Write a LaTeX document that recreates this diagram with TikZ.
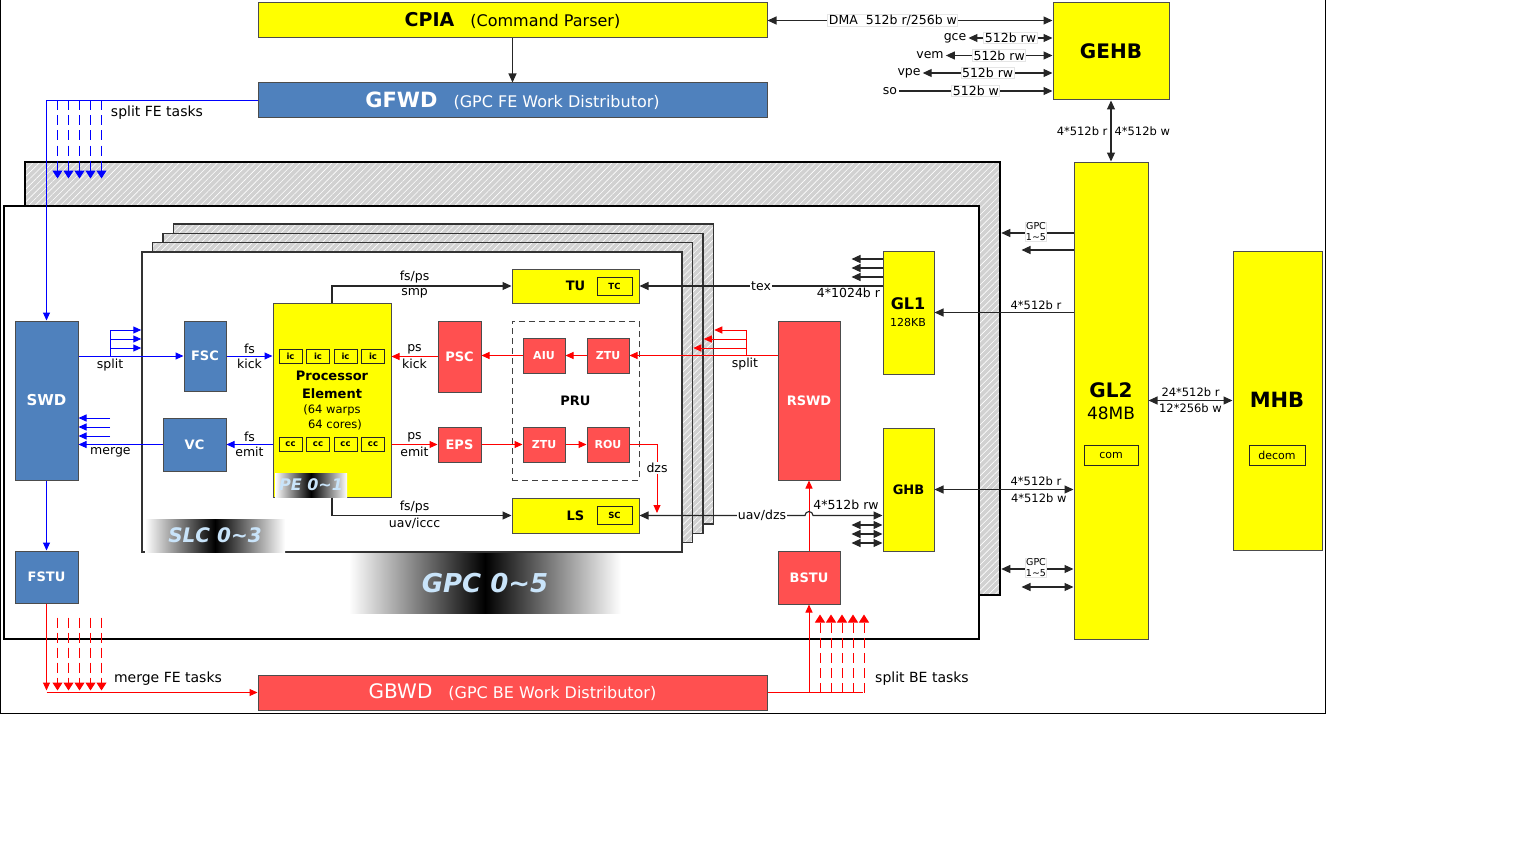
\documentclass[tikz,border=0pt]{standalone}
\usepackage{fontspec}
\setmainfont{DejaVu Sans}
\usetikzlibrary{arrows.meta, positioning, calc, patterns.meta}

\definecolor{GpuBlue}{HTML}{4F81BD}
\definecolor{GpuRed}{HTML}{FF5050}
\definecolor{GpuYellow}{HTML}{FFFF00}
\definecolor{TagBlue}{HTML}{C9E4FA}
\newcommand{\fsz}[1]{\fontsize{#1}{#1}\selectfont}
\newcommand{\tld}{\textasciitilde}

\tikzset{
  unit/.style={draw=black!70, line width=1pt, inner sep=0pt, align=center},
  ybox/.style={unit, fill=GpuYellow, font=\bfseries\fsz{13}},
  bbox/.style={unit, fill=GpuBlue, text=white, font=\bfseries\fsz{13}},
  rbox/.style={unit, fill=GpuRed, text=white, font=\bfseries\fsz{13}},
  tiny/.style={draw=black!85, line width=0.8pt, fill=GpuYellow, inner sep=0pt, font=\bfseries\fsz{8.5}},
  hatch/.style={draw=black, inner sep=0pt, preaction={fill=black!18},
    pattern={Lines[angle=45,distance=4.5pt,line width=0.6pt]}, pattern color=white},
  tag/.style={inner sep=0pt, left color=white, right color=white, middle color=black,
    text=TagBlue},
  lbl/.style={inner sep=2pt, font=\fsz{12.5}},
  onlbl/.style={lbl, inner sep=1pt, fill=white, draw=black!10},
  wlbl/.style={lbl, inner sep=3pt, font=\fsz{11.5}},
  arr/.style={-{Triangle[length=9pt,width=8pt]}, draw=black!85, line width=1.1pt},
  dblarr/.style={arr, {Triangle[length=9pt,width=8pt]}-{Triangle[length=9pt,width=8pt]}},
  barr/.style={-{Triangle[length=8pt,width=7pt]}, draw=blue, line width=1pt},
  rarr/.style={-{Triangle[length=8pt,width=7pt]}, draw=red, line width=1pt},
  fan/.style={dash pattern=on 10pt off 5pt, line width=1pt, -{Triangle[length=8pt,width=10pt]}},
}

\begin{document}
\begin{tikzpicture}[x=1pt, y=-1pt]
  \useasboundingbox (0,0) rectangle (1536,864);
  \draw[line width=1pt] (0,0) rectangle (1325,713);

  % front end: parser, work distributor, host bus
  \node[ybox, minimum width=509pt, minimum height=35pt, font=\fsz{16}] (cpia) at (512.5,20.5)
    {{\bfseries\fsz{19}CPIA}\quad(Command Parser)};
  \node[bbox, minimum width=509pt, minimum height=35pt, font=\fsz{16}] (gfwd) at (512.5,100.5)
    {{\bfseries\fsz{21}GFWD}\quad(GPC FE Work Distributor)};
  \node[ybox, minimum width=116pt, minimum height=97pt, font=\bfseries\fsz{20}] (gehb) at (1111,51.5) {GEHB};
  \draw[arr] (cpia.south) -- (gfwd.north);

  \draw[dblarr] (cpia.east) -- (cpia.east -| gehb.west) node[pos=0.44, onlbl] {DMA\ \ 512b r/256b w};
  \node[lbl] (gce) at (955,38) {gce};
  \node[lbl] (vem) at (930,55.5) {vem};
  \node[lbl] (vpe) at (909,73) {vpe};
  \node[lbl] (so) at (890,91) {so};
  \draw[dblarr] (gce.east) -- (gce.east -| gehb.west) node[midway, onlbl] {512b rw};
  \draw[dblarr] (vem.east) -- (vem.east -| gehb.west) node[midway, onlbl] {512b rw};
  \draw[dblarr] (vpe.east) -- (vpe.east -| gehb.west) node[midway, onlbl] {512b rw};
  \draw[arr] (so.east) -- (so.east -| gehb.west) node[midway, onlbl] {512b w};

  % L2 and memory hub
  \node[ybox, minimum width=74pt, minimum height=477pt] (gl2) at (1111,400.5) {};
  \node[font=\bfseries\fsz{20}] (gl2name) at (1111,390) {GL2};
  \node[font=\fsz{17}] (gl2size) at (1111,413) {48MB};
  \node[tiny, font=\fsz{11}, minimum width=54pt, minimum height=20pt] (com) at (1111,455) {com};
  \node[ybox, minimum width=89pt, minimum height=299pt] (mhb) at (1277.5,400.5) {};
  \node[font=\bfseries\fsz{21}] (mhbname) at (1277,400) {MHB};
  \node[tiny, font=\fsz{11}, minimum width=56pt, minimum height=20pt] (decom) at (1277,455) {decom};

  \draw[dblarr] (gehb.south) -- (gl2.north)
    node[midway, left, wlbl] {4*512b r}
    node[midway, right, wlbl] {4*512b w};
  \draw[dblarr] (gl2.east |- mhb.west) -- (mhb.west)
    node[midway, above, wlbl, inner sep=3pt] {24*512b r}
    node[midway, below, wlbl, inner sep=3pt] {12*256b w};

  % GPC stack
  \node[hatch, line width=2.5pt, minimum width=975pt, minimum height=433pt] (gpcback) at (512.5,378.5) {};
  \node[draw=black, line width=2.5pt, fill=white, minimum width=975pt, minimum height=433pt] (gpc) at (491.5,422.5) {};
  \node[tag, minimum width=272pt, minimum height=60pt, font=\bfseries\itshape\fsz{26}] (gpctag) at (485,583) {GPC 0\tld5};

  % SLC stack
  \foreach \i in {3,2,1}
    \node[hatch, line width=1.5pt, draw=black!80, minimum width=540pt, minimum height=300pt] (slcback\i) at (412+10.5*\i, 402-9.3*\i) {};
  \node[draw=black!80, line width=1.5pt, fill=white, minimum width=540pt, minimum height=300pt] (slc) at (412,402) {};
  \node[tag, minimum width=140pt, minimum height=33pt, font=\bfseries\itshape\fsz{20}] (slctag) at (215,535.5) {SLC 0\tld3};

  % GPC level units
  \node[bbox, minimum width=63pt, minimum height=159pt, font=\bfseries\fsz{15}] (swd) at (46.5,400.5) {SWD};
  \node[bbox, minimum width=63pt, minimum height=52pt] (fstu) at (46.5,577) {FSTU};
  \node[rbox, minimum width=62pt, minimum height=159pt] (rswd) at (809,400.5) {RSWD};
  \node[rbox, minimum width=62pt, minimum height=53pt] (bstu) at (809,577.5) {BSTU};
  \node[ybox, minimum width=51pt, minimum height=123pt] (gl1) at (908.5,312.5) {};
  \node[font=\bfseries\fsz{16}] (gl1name) at (908,304) {GL1};
  \node[font=\fsz{11}] (gl1size) at (908,322) {128KB};
  \node[ybox, minimum width=51pt, minimum height=123pt] (ghb) at (908.5,489.5) {GHB};

  % SLC units
  \node[bbox, minimum width=42pt, minimum height=70pt] (fsc) at (205,356) {FSC};
  \node[bbox, minimum width=63pt, minimum height=53pt] (vc) at (194.5,444.5) {VC};
  \node[ybox, minimum width=118pt, minimum height=194pt] (pe) at (332,400) {};
  \foreach \k in {1,...,4} {
    \node[tiny, minimum width=23pt, minimum height=14pt] (ic\k) at (263+27.5*\k,356) {ic};
    \node[tiny, minimum width=23pt, minimum height=14pt] (cc\k) at (263+27.5*\k,444.5) {cc};
  }
  \node[font=\bfseries\fsz{13}] (pe1) at (332,376) {Processor};
  \node[font=\bfseries\fsz{13}] (pe2) at (332,394) {Element};
  \node[font=\fsz{11.5}] (pe3) at (332,410) {(64 warps};
  \node[font=\fsz{11.5}] (pe4) at (335,425) {64 cores)};
  \node[tag, minimum width=72pt, minimum height=24pt, font=\bfseries\itshape\fsz{16}] (petag) at (311,485) {PE 0\tld1};

  \node[ybox, minimum width=127pt, minimum height=34pt] (tu) at (575.5,286) {TU};
  \node[tiny, minimum width=35pt, minimum height=18pt] (tc) at (614.5,286) {TC};
  \node[ybox, minimum width=127pt, minimum height=35pt] (ls) at (575.5,515.5) {LS};
  \node[tiny, minimum width=35pt, minimum height=18pt] (sc) at (614.5,515.5) {SC};
  \node[rbox, minimum width=43pt, minimum height=71pt] (psc) at (459.5,356.5) {PSC};
  \node[rbox, minimum width=43pt, minimum height=35pt] (eps) at (459.5,444.5) {EPS};
  \node[draw=black!75, line width=1pt, dash pattern=on 6pt off 4pt, minimum width=127pt, minimum height=159pt,
    font=\bfseries\fsz{13}] (pru) at (575.5,400.5) {PRU};
  \node[rbox, minimum width=42pt, minimum height=35pt, font=\bfseries\fsz{11}] (aiu) at (544,355.5) {AIU};
  \node[rbox, minimum width=42pt, minimum height=35pt, font=\bfseries\fsz{11}] (ztua) at (608,355.5) {ZTU};
  \node[rbox, minimum width=42pt, minimum height=35pt, font=\bfseries\fsz{11}] (ztub) at (544,444.5) {ZTU};
  \node[rbox, minimum width=42pt, minimum height=35pt, font=\bfseries\fsz{11}] (rou) at (608,444.5) {ROU};

  % FE task flow (blue)
  \draw[barr] (gfwd.west) -| (swd.north);
  \foreach \k in {1,...,5}
    \draw[fan, blue] ($(swd.north |- gfwd.west)+(11*\k,0)$) -- ++(0,78);
  \node[lbl, font=\fsz{14}] (fetasks) at (157,113) {split FE tasks};
  \draw[barr] (swd.south) -- (fstu.north);
  \coordinate (fsplit) at (110,356);
  \draw[barr] (swd.east |- fsc.west) -- (fsc.west) node[pos=0.3, below, lbl] {split};
  \draw[blue, line width=1pt] (fsplit) -- (fsplit |- 0,330);
  \foreach \yy in {330,339,348}
    \draw[barr] (fsplit |- 0,\yy) -- (slc.west |- 0,\yy);
  \draw[barr] (vc.west) -- (vc.west -| swd.east) node[pos=0.62, below, lbl] {merge};
  \foreach \yy in {418,427,436}
    \draw[barr] (fsplit |- 0,\yy) -- (swd.east |- 0,\yy);
  \draw[barr] (fsc.east) -- (fsc.east -| pe.west)
    node[midway, above, lbl] {fs} node[midway, below, lbl] {kick};
  \draw[barr] (pe.west |- vc.east) -- (vc.east)
    node[midway, above, lbl] {fs} node[midway, below, lbl] {emit};

  % BE task flow (red)
  \node[rbox, minimum width=509pt, minimum height=35pt, font=\fsz{16}] (gbwd) at (512.5,692.5)
    {{\mdseries\fsz{20}GBWD}\quad\mdseries(GPC BE Work Distributor)};
  \draw[rarr] (fstu.south) -- ++(0,87);
  \draw[rarr] (fstu.south |- gbwd.west) -- (gbwd.west);
  \foreach \k in {1,...,5}
    \draw[fan, red] ($(fstu.south)+(11*\k,14)$) -- ++(0,73);
  \node[lbl, font=\fsz{14}] (mergetasks) at (168,679) {merge FE tasks};
  \draw[red, line width=1pt] (gbwd.east) -- ++(95,0);
  \draw[rarr] (bstu.south |- gbwd.east) -- (bstu.south);
  \foreach \k in {1,...,5}
    \draw[fan, red] ($(bstu.south |- gbwd.east)+(11*\k,0)$) -- ++(0,-78);
  \node[lbl, font=\fsz{14}] (betasks) at (922,679) {split BE tasks};
  \draw[rarr] (bstu.north) -- (rswd.south);

  \coordinate (rsplit) at (746,356);
  \draw[rarr] (rswd.west |- ztua.east) -- (ztua.east) node[pos=0.22, below, lbl] {split};
  \draw[red, line width=1pt] (rsplit) -- (rsplit |- 0,330);
  \foreach \i/\yy in {1/348,2/339,3/330}
    \draw[rarr] (rsplit |- 0,\yy) -- (slcback\i.east |- 0,\yy);
  \draw[rarr] (ztua.west) -- (aiu.east);
  \draw[rarr] (aiu.west) -- (aiu.west -| psc.east);
  \draw[rarr] (psc.west) -- (psc.west -| pe.east)
    node[midway, above, lbl] {ps} node[midway, below, lbl] {kick};
  \draw[rarr] (pe.east |- eps.west) -- (eps.west)
    node[midway, above, lbl] {ps} node[midway, below, lbl] {emit};
  \draw[rarr] (eps.east) -- (ztub.west);
  \draw[rarr] (ztub.east) -- (rou.west);
  \coordinate (dzsend) at (657,513);
  \draw[rarr] (rou.east) -| (dzsend) node[pos=0.67, fill=white, lbl, inner sep=1pt] {dzs};

  % data paths (black)
  \draw[arr] (pe.north) |- (tu.west)
    node[pos=0.73, above, lbl] {fs/ps} node[pos=0.73, below, lbl] {smp};
  \draw[arr] (pe.south) |- (ls.west)
    node[pos=0.73, above, lbl] {fs/ps} node[pos=0.73, below, lbl] {uav/iccc};
  \draw[arr] (gl1.west |- tu.east) -- (tu.east)
    node[midway, fill=white, lbl, inner sep=1pt] {tex}
    node[pos=0.14, below, lbl, inner sep=1pt] {4*1024b r};
  \foreach \yy in {259,268,277}
    \draw[arr] (gl1.west |- 0,\yy) -- ++(-31,0);
  \draw[dblarr] (ghb.west |- ls.east) -- ($(rswd.south |- ls.east)+(4,0)$)
    arc[start angle=0, end angle=180, radius=4pt] -- (ls.east);
  \node[lbl, fill=white, inner sep=1pt] (uavdzs) at (762,515.5) {uav/dzs};
  \node[lbl, inner sep=1pt] (ghbrw) at (846,505) {4*512b rw};
  \foreach \yy in {525,534,543}
    \draw[dblarr] (ghb.west |- 0,\yy) -- ++(-31,0);

  % GL2 ports
  \draw[arr] (gl2.west |- 0,233) -- (gpcback.east |- 0,233);
  \draw[arr] (gl2.west |- 0,250) -- ++(-52,0);
  \node[onlbl, font=\fontsize{9.5}{11}\selectfont, align=center, inner sep=0.5pt] (gpcup) at (1036,232) {GPC\\1\tld5};
  \draw[arr] (gl2.west |- gl1.east) -- (gl1.east)
    node[pos=0.27, above, wlbl, inner sep=2pt] {4*512b r};
  \draw[dblarr] (ghb.east) -- (ghb.east -| gl2.west)
    node[pos=0.73, above, wlbl, inner sep=3pt] {4*512b r}
    node[pos=0.75, below, wlbl, inner sep=4pt] {4*512b w};
  \draw[dblarr] (gpcback.east |- 0,569) -- (gl2.west |- 0,569);
  \draw[dblarr] (gl2.west |- 0,587) -- ++(-52,0);
  \node[onlbl, font=\fontsize{9.5}{11}\selectfont, align=center, inner sep=0.5pt] (gpcdown) at (1036,568) {GPC\\1\tld5};
\end{tikzpicture}
\end{document}
